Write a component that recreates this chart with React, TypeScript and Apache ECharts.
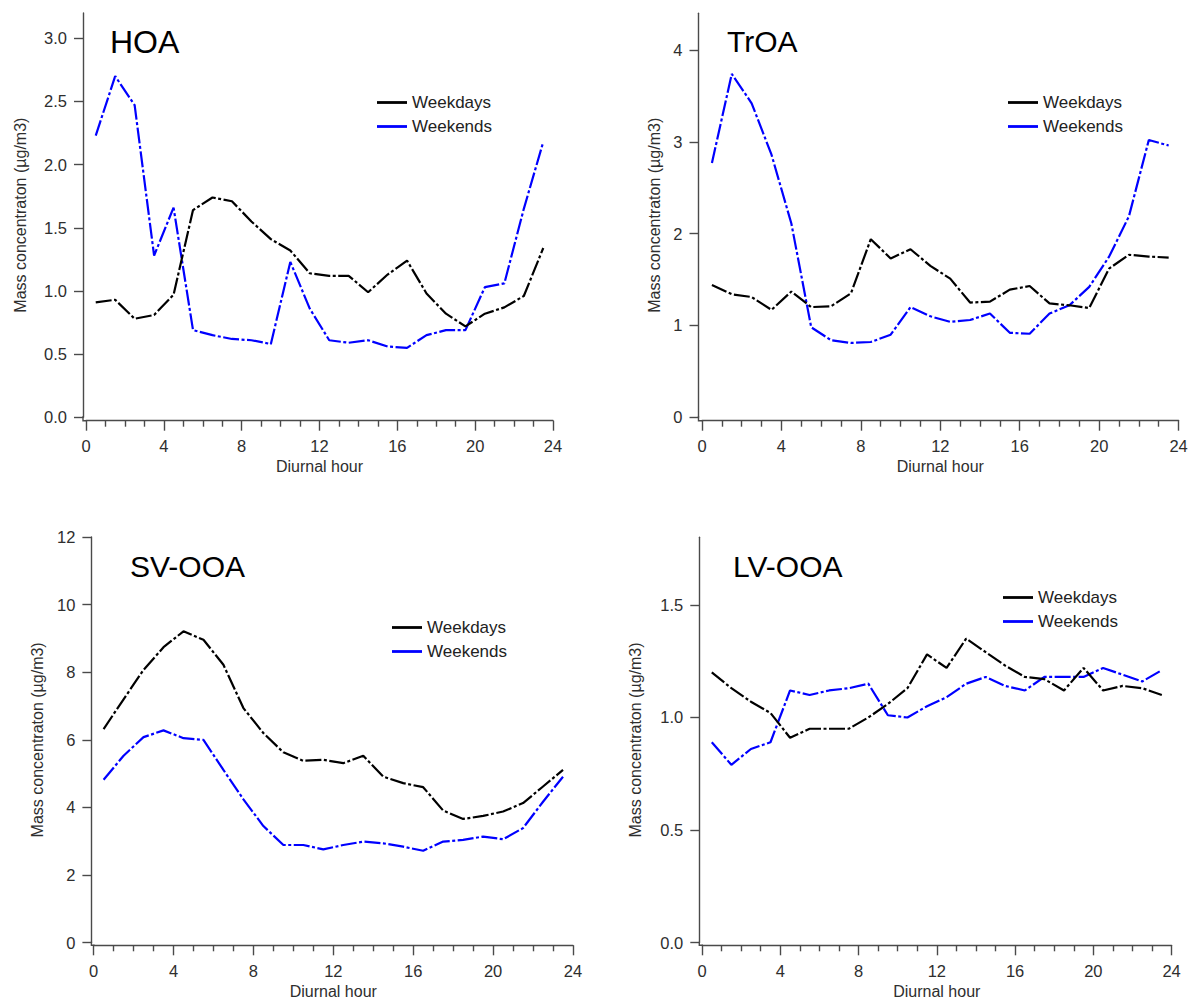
import React, { useEffect, useRef } from 'react';
import * as echarts from 'echarts';

// ---------- data ----------
const hours = [0.5, 1.5, 2.5, 3.5, 4.5, 5.5, 6.5, 7.5, 8.5, 9.5, 10.5, 11.5, 12.5, 13.5, 14.5, 15.5, 16.5, 17.5, 18.5, 19.5, 20.5, 21.5, 22.5, 23.5];

const hoaWeekdays = [0.91, 0.93, 0.78, 0.81, 0.97, 1.64, 1.74, 1.71, 1.55, 1.41, 1.32, 1.14, 1.12, 1.12, 0.99, 1.13, 1.24, 0.98, 0.82, 0.72, 0.82, 0.87, 0.96, 1.34];
const hoaWeekends = [2.23, 2.70, 2.47, 1.28, 1.66, 0.69, 0.65, 0.62, 0.61, 0.58, 1.23, 0.86, 0.61, 0.59, 0.61, 0.56, 0.55, 0.65, 0.69, 0.69, 1.03, 1.06, 1.65, 2.18];

const troaWeekdays = [1.44, 1.34, 1.31, 1.17, 1.37, 1.20, 1.21, 1.35, 1.94, 1.73, 1.83, 1.65, 1.51, 1.25, 1.26, 1.39, 1.43, 1.24, 1.22, 1.19, 1.62, 1.77, 1.75, 1.74];
const troaWeekends = [2.77, 3.74, 3.42, 2.86, 2.11, 0.98, 0.84, 0.81, 0.82, 0.90, 1.20, 1.10, 1.04, 1.06, 1.13, 0.92, 0.91, 1.13, 1.22, 1.42, 1.75, 2.19, 3.02, 2.96];

const svWeekdays = [6.32, 7.20, 8.07, 8.74, 9.21, 8.96, 8.22, 6.94, 6.20, 5.63, 5.38, 5.41, 5.31, 5.53, 4.91, 4.72, 4.60, 3.91, 3.66, 3.75, 3.88, 4.13, 4.62, 5.11];
const svWeekends = [4.82, 5.53, 6.08, 6.28, 6.05, 6.00, 5.11, 4.24, 3.45, 2.89, 2.89, 2.76, 2.89, 2.99, 2.94, 2.84, 2.72, 2.99, 3.04, 3.14, 3.06, 3.39, 4.17, 4.91];

const lvWeekdays = [1.20, 1.13, 1.07, 1.02, 0.91, 0.95, 0.95, 0.95, 1.00, 1.06, 1.13, 1.28, 1.22, 1.35, 1.29, 1.23, 1.18, 1.17, 1.12, 1.22, 1.12, 1.14, 1.13, 1.10];
const lvWeekends = [0.89, 0.79, 0.86, 0.89, 1.12, 1.10, 1.12, 1.13, 1.15, 1.01, 1.00, 1.05, 1.09, 1.15, 1.18, 1.14, 1.12, 1.18, 1.18, 1.18, 1.22, 1.19, 1.16, 1.21];

const xTicks = [0, 4, 8, 12, 16, 20, 24];
const hoaYTicks = [0, 0.5, 1, 1.5, 2, 2.5, 3];
const troaYTicks = [0, 1, 2, 3, 4];
const svYTicks = [0, 2, 4, 6, 8, 10, 12];
const lvYTicks = [0, 0.5, 1, 1.5];

const panelTitles = ['HOA', 'TrOA', 'SV-OOA', 'LV-OOA'];
const seriesNames = ['Weekdays', 'Weekends'];
const seriesColors = ['#000000', '#0000ff'];
const xAxisName = 'Diurnal hour';
const yAxisName = 'Mass concentraton (µg/m3)';

// ---------- layout / style ----------
const FONT = '"Liberation Sans", Arial, Helvetica, sans-serif';
const AXIS_COLOR = '#4a4a4a';
const LABEL_COLOR = '#2e2e2e';
const DASH = [16, 2.5, 3, 2.5];

const panels = [
  { values: [hoaWeekdays, hoaWeekends], yTicks: hoaYTicks, yMax: 3.2, digits: 1,
    grid: { left: 86, top: 13, width: 467, height: 404.3 }, yOff: 3, xOff: 3.4, yNameGap: 55,
    titleX: 110, titleY: 41.5, titleSize: 32, legend: { left: 372, top: 89 } },
  { values: [troaWeekdays, troaWeekends], yTicks: troaYTicks, yMax: 4.4, digits: 0,
    grid: { left: 702, top: 13.3, width: 476.6, height: 404 }, yOff: 3.5, xOff: 3.4, yNameGap: 36,
    titleX: 727, titleY: 41.7, titleSize: 30, legend: { left: 1003, top: 89 } },
  { values: [svWeekdays, svWeekends], yTicks: svYTicks, yMax: 12, digits: 0,
    grid: { left: 93.6, top: 537, width: 479.4, height: 405.7 }, yOff: 2.2, xOff: 2.6, yNameGap: 46,
    titleX: 130, titleY: 566.7, titleSize: 30, legend: { left: 387, top: 614 } },
  { values: [lvWeekdays, lvWeekends], yTicks: lvYTicks, yMax: 1.8, digits: 1,
    grid: { left: 702, top: 537.3, width: 469.6, height: 405.4 }, yOff: 2.7, xOff: 2.6, yNameGap: 56,
    titleX: 733, titleY: 566.7, titleSize: 30, legend: { left: 998, top: 584 } },
];

function buildOption() {
  const grid: any[] = [];
  const xAxis: any[] = [];
  const yAxis: any[] = [];
  const series: any[] = [];
  const legend: any[] = [];
  const graphic: any[] = [];

  panels.forEach((p, i) => {
    grid.push({ ...p.grid, containLabel: false });
    xAxis.push({
      type: 'value', gridIndex: i, min: 0, max: 24, interval: 4, offset: p.xOff,
      name: xAxisName, nameLocation: 'middle', nameGap: 38,
      nameTextStyle: { fontSize: 16, color: LABEL_COLOR, fontFamily: FONT },
      axisLine: { show: true, onZero: false, lineStyle: { color: AXIS_COLOR, width: 1.4 } },
      axisTick: { show: true, inside: false, length: 10, customValues: xTicks, lineStyle: { color: AXIS_COLOR, width: 1.4 } },
      minorTick: { show: true, splitNumber: 4, length: 6, lineStyle: { color: AXIS_COLOR, width: 1.4 } },
      axisLabel: { customValues: xTicks, margin: 17, fontSize: 16.5, color: LABEL_COLOR, fontFamily: FONT },
      splitLine: { show: false },
    });
    yAxis.push({
      type: 'value', gridIndex: i, min: 0, max: p.yMax, offset: p.yOff,
      name: yAxisName, nameLocation: 'middle', nameGap: p.yNameGap, nameRotate: 90,
      nameTextStyle: { fontSize: 16, color: LABEL_COLOR, fontFamily: FONT },
      axisLine: { show: true, onZero: false, lineStyle: { color: AXIS_COLOR, width: 1.4 } },
      axisTick: { show: true, inside: false, length: 9, customValues: p.yTicks, lineStyle: { color: AXIS_COLOR, width: 1.4 } },
      axisLabel: {
        customValues: p.yTicks, margin: 16, fontSize: 16.5, color: LABEL_COLOR, fontFamily: FONT,
        formatter: (v: number) => v.toFixed(p.digits),
      },
      splitLine: { show: false },
    });
    p.values.forEach((vals, k) => {
      series.push({
        type: 'line', name: seriesNames[k], xAxisIndex: i, yAxisIndex: i,
        data: hours.map((h, j) => [h, vals[j]]),
        symbol: 'none', smooth: false,
        itemStyle: { color: seriesColors[k] },
        lineStyle: { color: seriesColors[k], width: 2.2, type: DASH },
        z: 3 - k,
      });
    });
    legend.push({
      data: seriesNames, orient: 'vertical', left: p.legend.left, top: p.legend.top,
      icon: 'rect', itemWidth: 30, itemHeight: 2.8, itemGap: 7,
      selectedMode: false,
      textStyle: { fontSize: 17, lineHeight: 16, color: '#222', fontFamily: FONT },
    });
    graphic.push({
      type: 'text', x: p.titleX, y: p.titleY,
      style: { text: panelTitles[i], fontSize: p.titleSize, fontFamily: FONT, fill: '#000', verticalAlign: 'middle', align: 'left' },
    });
    const gx = p.grid.left;
    const gb = p.grid.top + p.grid.height;
    graphic.push({
      type: 'polyline',
      shape: { points: [[gx - p.yOff, gb - 1], [gx - p.yOff, gb + p.xOff], [gx + 1, gb + p.xOff]] },
      style: { stroke: AXIS_COLOR, lineWidth: 1.4, fill: 'none' },
    });
  });

  return {
    animation: false,
    backgroundColor: '#ffffff',
    textStyle: { fontFamily: FONT },
    grid, xAxis, yAxis, series, legend, graphic,
  };
}

export default function App() {
  const ref = useRef<HTMLDivElement>(null);
  useEffect(() => {
    if (!ref.current) return;
    const chart = echarts.init(ref.current, undefined, { renderer: 'svg' });
    chart.setOption(buildOption() as any);
    return () => chart.dispose();
  }, []);
  return (
    <div
      ref={ref}
      style={{ position: 'absolute', left: 0, top: 0, width: 1195, height: 1003, background: '#fff' }}
    />
  );
}
